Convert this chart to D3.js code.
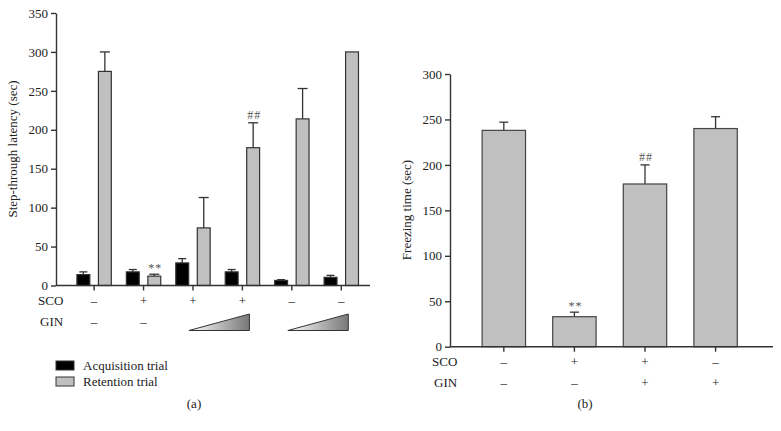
<!DOCTYPE html>
<meta charset="utf-8">
<style>
body { margin: 0; background: #fff; }
text { font: 13px "Liberation Serif", "Times New Roman", serif; fill: #222; }
.axis path, .axis line { stroke: #333; stroke-width: 1.4; }
.small { font-size: 12px; fill: #555; letter-spacing: 1px; }
</style>
<svg width="781" height="431"></svg>
<script src="https://cdnjs.cloudflare.com/ajax/libs/d3/7.8.5/d3.min.js"></script>
<script>

// panel (a) data
var groups = ["g1", "g2", "g3", "g4", "g5", "g6"];
var acqMean = [14, 17.5, 29, 17.5, 6.5, 10.5];
var acqSem = [3.5, 3, 5.5, 3, 1, 2.5];
var retMean = [275, 12, 74, 177, 214, 300];
var retSem = [25, 2.5, 39, 32, 39, 0];
var scoA = ["\u2013", "+", "+", "+", "\u2013", "\u2013"];
var ginA = ["\u2013", "\u2013", "", "", "", ""];
var ramps = [["g3", "g4"], ["g5", "g6"]];
var marksA = [["g2", "**"], ["g4", "##"]];
var ticksA = [0, 50, 100, 150, 200, 250, 300, 350];

// panel (b) data
var bars = ["b1", "b2", "b3", "b4"];
var freezeMean = [238, 33, 179, 240];
var freezeSem = [9, 5, 21, 13];
var scoB = ["\u2013", "+", "+", "\u2013"];
var ginB = ["\u2013", "\u2013", "+", "+"];
var marksB = [["b2", "**"], ["b3", "##"]];
var ticksB = [0, 50, 100, 150, 200, 250, 300];

var svg = d3.select("svg");

var defs = svg.append("defs");
var grad = defs.append("linearGradient").attr("id", "ramp");
grad.append("stop").attr("offset", "0%").attr("stop-color", "#fff");
grad.append("stop").attr("offset", "100%").attr("stop-color", "#777");

// ---------- panel (a) ----------
var ya = d3.scaleLinear().domain([0, 350]).range([285.5, 13]);
var xa = d3.scaleBand().domain(groups).range([69.4, 366]).padding(0);
var xs = d3.scaleBand().domain(["acq", "ret"]).range([0, xa.bandwidth()])
    .paddingInner(0.4).paddingOuter(0.35);

var ga = svg.append("g");

ga.append("g")
    .attr("class", "axis")
    .attr("transform", "translate(56,0)")
    .call(d3.axisLeft(ya).tickValues(ticksA).tickSize(5).tickPadding(3).tickSizeOuter(0));

function drawBars(g, x0, keys, means, sems, sub, color, capW) {
    var grp = g.append("g");
    keys.forEach(function(k, i) {
        var left = x0(k) + sub, w = xs.bandwidth(), top = ya(means[i]);
        var cx = left + w / 2;
        if (sems[i] > 0) {
            grp.append("line").attr("x1", cx).attr("x2", cx)
                .attr("y1", top).attr("y2", ya(means[i] + sems[i]))
                .attr("stroke", "#333").attr("stroke-width", 1.3);
            grp.append("line").attr("x1", cx - capW / 2).attr("x2", cx + capW / 2)
                .attr("y1", ya(means[i] + sems[i])).attr("y2", ya(means[i] + sems[i]))
                .attr("stroke", "#333").attr("stroke-width", 1.3);
        }
        grp.append("rect").attr("x", left).attr("y", top)
            .attr("width", w).attr("height", ya(0) - top)
            .attr("fill", color).attr("stroke", "#333").attr("stroke-width", 1.2);
    });
}

drawBars(ga, xa, groups, acqMean, acqSem, xs("acq"), "#000", 8);
drawBars(ga, xa, groups, retMean, retSem, xs("ret"), "#c0c0c0", 10);

marksA.forEach(function(m) {
    var i = groups.indexOf(m[0]);
    ga.append("text").attr("class", "small")
        .attr("x", xa(m[0]) + xs("ret") + xs.bandwidth() / 2 + 1)
        .attr("y", ya(retMean[i] + retSem[i]) - (m[1] == "**" ? 2 : 4))
        .attr("text-anchor", "middle").text(m[1]);
});

ga.append("g")
    .attr("class", "axis")
    .attr("transform", "translate(0," + ya(0) + ")")
    .call(d3.axisBottom(xa).tickSize(5).tickFormat(""))
    .select(".domain").attr("d", "M56,0H370");

ga.append("text").attr("x", 38).attr("y", 305).text("SCO");
ga.append("text").attr("x", 40).attr("y", 326).text("GIN");
groups.forEach(function(k, i) {
    var cx = xa(k) + xa.bandwidth() / 2;
    ga.append("text").attr("x", cx).attr("y", 305).attr("text-anchor", "middle").text(scoA[i]);
    if (ginA[i]) ga.append("text").attr("x", cx).attr("y", 326).attr("text-anchor", "middle").text(ginA[i]);
});

ramps.forEach(function(r) {
    var x1 = xa(r[0]) + xa.bandwidth() / 2 - 4,
        x2 = xa(r[1]) + xa.bandwidth() / 2 + 7;
    ga.append("path")
        .attr("d", "M" + x1 + ",330.5L" + x2 + ",330.5L" + x2 + ",314Z")
        .attr("fill", "url(#ramp)").attr("stroke", "#333").attr("stroke-width", 1);
});

ga.append("text")
    .attr("transform", "translate(17,149) rotate(-90)")
    .attr("text-anchor", "middle").text("Step-through latency (sec)");

// legend
var legend = ga.selectAll(".legend")
    .data([["Acquisition trial", "#000"], ["Retention trial", "#c0c0c0"]])
    .enter().append("g")
    .attr("transform", function(d, i) { return "translate(56," + (361 + i * 16) + ")"; });
legend.append("rect").attr("width", 18).attr("height", 9)
    .attr("fill", function(d) { return d[1]; }).attr("stroke", "#333");
legend.append("text").attr("x", 27).attr("y", 8.5).text(function(d) { return d[0]; });

ga.append("text").attr("x", 194).attr("y", 408).attr("text-anchor", "middle").text("(a)");

// ---------- panel (b) ----------
var yb = d3.scaleLinear().domain([0, 300]).range([346.7, 74]);
var xb = d3.scaleBand().domain(bars).range([468.7, 750.7]).paddingInner(0.385).paddingOuter(0.19);

var gb = svg.append("g");

gb.append("g")
    .attr("class", "axis")
    .attr("transform", "translate(450,0)")
    .call(d3.axisLeft(yb).tickValues(ticksB).tickSize(5).tickPadding(3).tickSizeOuter(0));

bars.forEach(function(k, i) {
    var left = xb(k), w = xb.bandwidth(), top = yb(freezeMean[i]), cx = left + w / 2;
    var et = yb(freezeMean[i] + freezeSem[i]);
    gb.append("line").attr("x1", cx).attr("x2", cx).attr("y1", top).attr("y2", et)
        .attr("stroke", "#333").attr("stroke-width", 1.3);
    gb.append("line").attr("x1", cx - 4.5).attr("x2", cx + 4.5).attr("y1", et).attr("y2", et)
        .attr("stroke", "#333").attr("stroke-width", 1.3);
    gb.append("rect").attr("x", left).attr("y", top).attr("width", w)
        .attr("height", yb(0) - top)
        .attr("fill", "#c0c0c0").attr("stroke", "#444").attr("stroke-width", 1.2);
    gb.append("text").attr("x", cx).attr("y", 366).attr("text-anchor", "middle").text(scoB[i]);
    gb.append("text").attr("x", cx).attr("y", 387).attr("text-anchor", "middle").text(ginB[i]);
});

marksB.forEach(function(m) {
    var i = bars.indexOf(m[0]);
    gb.append("text").attr("class", "small")
        .attr("x", xb(m[0]) + xb.bandwidth() / 2 + 1)
        .attr("y", yb(freezeMean[i] + freezeSem[i]) - (m[1] == "**" ? 2 : 4))
        .attr("text-anchor", "middle").text(m[1]);
});

gb.append("g")
    .attr("class", "axis")
    .attr("transform", "translate(0," + yb(0) + ")")
    .call(d3.axisBottom(xb).tickSize(5).tickFormat(""))
    .select(".domain").attr("d", "M450,0H773");

gb.append("text").attr("x", 432).attr("y", 366).text("SCO");
gb.append("text").attr("x", 434).attr("y", 387).text("GIN");

gb.append("text")
    .attr("transform", "translate(411,210) rotate(-90)")
    .attr("text-anchor", "middle").text("Freezing time (sec)");

gb.append("text").attr("x", 585).attr("y", 408).attr("text-anchor", "middle").text("(b)");

</script>
